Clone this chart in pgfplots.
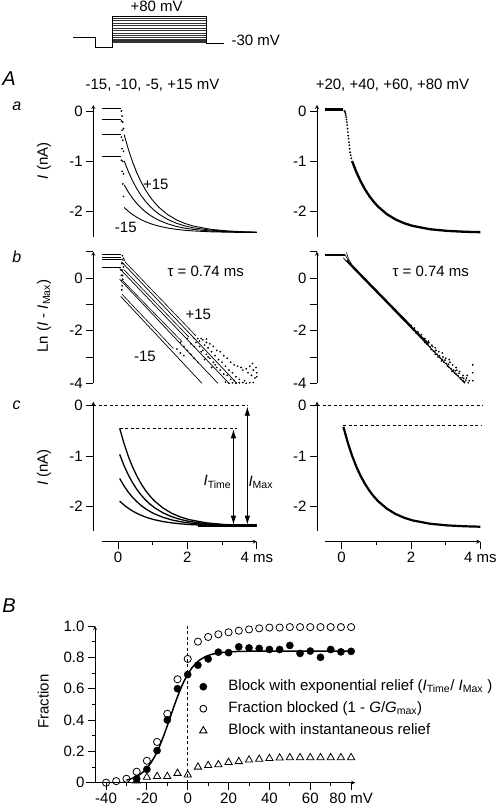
\documentclass[border=0pt]{standalone}
\usepackage{fontspec}
\setmainfont{Liberation Sans}
\usepackage{pgfplots}
\pgfplotsset{compat=1.18}
\usetikzlibrary{arrows.meta}
\newcommand{\fs}{\fontsize{15}{18}\selectfont}
\pgfplotsset{
  base/.style={scale only axis, clip=false,
    axis line style={-, line width=0.8pt},
    major tick length=7pt, minor tick length=3.5pt,
    tick style={line width=0.8pt, black},
    /pgf/number format/assume math mode=true,
    tick label style={font=\fs}},
  pA/.style={base, width=163.4pt, xmin=-0.71, xmax=4,
    axis x line=none, axis y line=left, tick align=outside},
  dat/.style={black, line width=0.9pt},
  dots/.style={black, only marks, mark=*, mark size=0.65pt},
  dsh/.style={black, line width=0.8pt, dash pattern=on 3pt off 2.5pt},
}
\begin{document}
\begin{tikzpicture}[x=1pt,y=1pt,font=\fs]
\useasboundingbox (0,0) rectangle (496,810);

% ---------- protocol ----------
\begin{axis}[scale only axis, width=496pt, height=810pt, at={(0pt,0pt)}, anchor=south west,
  xmin=0, xmax=496, ymin=0, ymax=810, hide axis, clip=false, unbounded coords=jump]
\addplot[black, line width=0.8pt] coordinates {(73.3,772.7)(95,772.7)(95,763)(112.7,763)(112.7,794)(206,794)(206,766.7)(224,766.7)};
\addplot[black!80, line width=0.6pt] coordinates {
(112.7,791.7)(206,791.7)(nan,nan)
(112.7,789.3)(206,789.3)(nan,nan)
(112.7,787)(206,787)(nan,nan)
(112.7,784.3)(206,784.3)(nan,nan)
(112.7,782)(206,782)(nan,nan)
(112.7,779.3)(206,779.3)(nan,nan)
(112.7,777)(206,777)(nan,nan)
(112.7,774.3)(206,774.3)(nan,nan)
(112.7,772.3)(206,772.3)(nan,nan)
(112.7,770.9)(206,770.9)(nan,nan)
(112.7,769.7)(206,769.7)(nan,nan)
(112.7,768.5)(206,768.5)(nan,nan)
(112.7,767.4)(206,767.4)};
\end{axis}
\node at (156.7,804) {+80 mV};
\node[anchor=west] at (228,770) {-30 mV};

% ---------- labels ----------
\node at (9,731) {\fontsize{20}{24}\selectfont\itshape A};
\node at (152.5,725) {-15, -10, -5, +15 mV};
\node at (392.5,725) {+20, +40, +60, +80 mV};
\node at (16.7,704.2) {\fontsize{16}{19}\selectfont\itshape a};
\node at (16.7,553.3) {\fontsize{16}{19}\selectfont\itshape b};
\node at (16.7,405) {\fontsize{16}{19}\selectfont\itshape c};
\node at (9,204.2) {\fontsize{20}{24}\selectfont\itshape B};
\node[rotate=90] at (44,649.2) {\textit{I} (nA)};
\node[rotate=90] at (44,494) {Ln (\textit{I} - \textit{I}\textsubscript{Max})};
\node[rotate=90] at (44,342.5) {\textit{I} (nA)};
\node[rotate=90] at (43.3,108.3) {Fraction};
\node at (205.8,538.3) {τ = 0.74 ms};
\node at (430.8,538.3) {τ = 0.74 ms};
\node at (155.8,626) {+15};
\node at (125.8,582.5) {-15};
\node at (198.3,496) {+15};
\node at (145,453.3) {-15};
\node at (217.5,328.3) {\textit{I}\textsubscript{Time}};
\node at (260.8,327.5) {\textit{I}\textsubscript{Max}};

% ---------- row a left ----------
\begin{axis}[pA, height=131.7pt, ymin=-2.5, ymax=0.12, ytick={-2,-1,0},
  at={(93.3pt,573.3pt)}, anchor=south west]
\addplot[dat] coordinates {(-0.45,0.05)(0.08,0.05)};
\addplot[dat] coordinates {(-0.45,-0.16)(0.08,-0.16)};
\addplot[dat] coordinates {(-0.45,-0.46)(0.08,-0.46)};
\addplot[dat] coordinates {(-0.45,-0.90)(0.08,-0.90)};
\addplot[dots] coordinates {(0.10,0.0)(0.12,-0.1)(0.14,-0.22)(0.16,-0.35)
 (0.10,-0.2)(0.12,-0.38)(0.14,-0.58)(0.16,-0.8)
 (0.10,-0.52)(0.12,-0.75)(0.14,-1.0)(0.16,-1.25)
 (0.10,-0.98)(0.12,-1.2)(0.14,-1.45)(0.16,-1.7)};
\addplot[dat] coordinates {(0.18,-0.47)(0.305,-0.772)(0.43,-1.030)(0.555,-1.246)(0.68,-1.427)(0.805,-1.581)(0.93,-1.712)(1.055,-1.821)(1.18,-1.915)(1.43,-2.059)(1.68,-2.163)(1.93,-2.237)(2.18,-2.289)(2.68,-2.354)(3.18,-2.386)(3.68,-2.403)(4.0,-2.409)};
\addplot[dat] coordinates {(0.18,-0.99)(0.305,-1.212)(0.43,-1.400)(0.555,-1.559)(0.68,-1.692)(0.805,-1.805)(0.93,-1.901)(1.055,-1.981)(1.18,-2.050)(1.43,-2.155)(1.68,-2.231)(1.93,-2.286)(2.18,-2.324)(2.68,-2.371)(3.18,-2.395)(3.68,-2.407)(4.0,-2.412)};
\addplot[dat] coordinates {(0.18,-1.47)(0.305,-1.617)(0.43,-1.743)(0.555,-1.848)(0.68,-1.936)(0.805,-2.011)(0.93,-2.075)(1.055,-2.128)(1.18,-2.174)(1.43,-2.244)(1.68,-2.295)(1.93,-2.331)(2.18,-2.356)(2.68,-2.388)(3.18,-2.403)(3.68,-2.412)(4.0,-2.415)};
\addplot[dat] coordinates {(0.18,-1.92)(0.305,-1.997)(0.43,-2.063)(0.555,-2.119)(0.68,-2.165)(0.805,-2.205)(0.93,-2.238)(1.055,-2.266)(1.18,-2.29)(1.43,-2.327)(1.68,-2.354)(1.93,-2.373)(2.18,-2.386)(2.68,-2.403)(3.18,-2.411)(3.68,-2.416)(4.0,-2.417)};
\end{axis}

% ---------- row a right ----------
\begin{axis}[pA, height=131.7pt, ymin=-2.5, ymax=0.12, ytick={-2,-1,0},
  at={(317pt,573.3pt)}, anchor=south west]
\addplot[black, line width=2.5pt] coordinates {(-0.48,0.03)(0.05,0.03)};
\addplot[dots] coordinates {(0.08,0.0)(0.1,-0.02)(0.11,-0.05)(0.12,-0.08)(0.13,-0.12)(0.14,-0.17)(0.15,-0.22)(0.16,-0.28)(0.17,-0.35)(0.18,-0.42)(0.19,-0.49)(0.2,-0.55)(0.21,-0.62)(0.22,-0.68)(0.23,-0.75)(0.245,-0.82)(0.26,-0.88)(0.28,-0.94)};
\addplot[black, line width=2.3pt] coordinates {(0.3,-0.994)(0.425,-1.216)(0.55,-1.402)(0.675,-1.56)(0.8,-1.694)(0.925,-1.806)(1.05,-1.902)(1.3,-2.05)(1.55,-2.156)(1.8,-2.232)(2.05,-2.286)(2.55,-2.352)(3.05,-2.385)(3.55,-2.402)(4.0,-2.41)};
\end{axis}

% ---------- row b left ----------
\begin{axis}[pA, height=131.6pt, ymin=-4, ymax=1, ytick={-4,-2,0}, minor ytick={-3,-1,1},
  minor tick length=7pt, at={(93.3pt,426.7pt)}, anchor=south west]
\addplot[dat] coordinates {(-0.45,0.89)(0.1,0.89)};
\addplot[dat] coordinates {(-0.45,0.80)(0.1,0.80)};
\addplot[dat] coordinates {(-0.45,0.70)(0.1,0.70)};
\addplot[dat] coordinates {(-0.45,0.40)(0.1,0.40)};
\addplot[black, line width=0.7pt] coordinates {(0.1,0.62)(3.43,-4)};
\addplot[black, line width=0.7pt] coordinates {(0.05,0.36)(3.2,-4)};
\addplot[black, line width=0.7pt] coordinates {(0.05,-0.05)(2.88,-4)};
\addplot[black, line width=0.7pt] coordinates {(0.08,-0.70)(2.42,-4)};
\addplot[black, line width=0.6pt] coordinates {(0.2,0.62)(2.25,-2.2)};
\addplot[black, line width=0.6pt] coordinates {(0.17,0.32)(2.05,-2.25)};
\addplot[black, line width=0.6pt] coordinates {(0.15,-0.12)(1.85,-2.42)};
\addplot[black, line width=0.6pt] coordinates {(0.12,-0.62)(1.6,-2.68)};
\addplot[dots] coordinates {(0.13,0.85)(0.16,0.75)(0.18,0.68)(0.12,0.7)(0.14,0.55)(0.16,0.42)
 (0.11,0.55)(0.12,0.3)(0.13,0.1)(0.14,-0.05)(0.09,0.3)(0.1,0.1)(0.11,-0.1)(0.12,-0.3)(0.11,-0.45)
 (2.3,-2.3)(2.35,-2.4)(2.45,-2.35)(2.5,-2.55)(2.55,-2.45)(2.6,-2.65)(2.65,-2.5)(2.7,-2.8)(2.75,-2.6)
 (2.8,-2.95)(2.85,-2.75)(2.9,-3.1)(2.95,-2.8)(3.0,-3.2)(3.05,-2.95)(3.1,-3.35)(3.15,-3.05)(3.2,-3.5)
 (3.25,-3.2)(3.3,-3.6)(3.35,-3.3)(3.4,-3.75)(3.45,-3.35)(3.5,-3.85)(3.55,-3.4)(3.6,-3.5)(3.65,-3.9)
 (3.7,-3.45)(3.75,-3.6)(3.8,-3.35)(3.85,-3.7)(3.9,-3.5)(3.95,-3.8)(4.0,-3.6)(3.1,-3.95)(3.3,-3.98)
 (3.6,-3.97)(3.9,-3.97)(2.6,-3.0)(2.8,-3.3)(2.4,-2.8)(2.2,-2.6)(2.0,-2.3)(2.1,-2.5)(2.5,-3.1)(2.7,-3.4)
 (3.2,-4.0)(3.4,-4.0)(3.5,-3.98)(3.7,-4.0)(3.8,-3.98)(4.0,-3.75)(3.98,-3.4)(3.88,-3.25)
 (1.8,-2.45)(1.9,-2.6)(2.0,-2.75)(2.1,-2.9)(2.2,-3.05)(2.3,-3.2)(1.7,-2.7)(1.8,-2.85)(1.9,-2.95)
 (2.25,-2.45)(2.35,-2.6)(2.45,-2.75)(2.55,-2.9)(2.65,-3.05)(2.75,-3.2)(2.85,-3.4)(2.95,-3.5)
 (3.05,-3.65)(3.15,-3.7)(3.25,-3.85)(3.35,-3.9)(2.4,-2.3)(2.55,-2.32)(2.2,-2.3)};
\end{axis}

% ---------- row b right ----------
\begin{axis}[pA, height=131.6pt, ymin=-4, ymax=1, ytick={-4,-2,0}, minor ytick={-3,-1,1},
  minor tick length=7pt, at={(317pt,426.7pt)}, anchor=south west]
\addplot[black, line width=2pt] coordinates {(-0.48,0.89)(0.1,0.89)};
\addplot[black, line width=0.6pt] coordinates {(0.1,0.89)(0.22,0.6)};
\addplot[black, line width=0.6pt] coordinates {(0.14,0.97)(0.2,0.72)(0.3,0.5)};
\addplot[black, line width=0.8pt] coordinates {(0.05,0.76)(3.55,-4.0)};
\addplot[black, line width=2.2pt] coordinates {(0.15,0.66)(2.0,-1.84)};
\addplot[black, line width=1.4pt] coordinates {(2.0,-1.84)(2.5,-2.5)};
\addplot[dots] coordinates {(2.0,-1.8)(2.05,-1.95)(2.1,-1.9)(2.15,-2.1)(2.2,-2.05)(2.25,-2.22)(2.3,-2.15)
 (2.35,-2.35)(2.4,-2.3)(2.45,-2.5)(2.5,-2.4)(2.55,-2.62)(2.6,-2.55)(2.65,-2.78)(2.7,-2.65)(2.75,-2.9)
 (2.8,-2.8)(2.85,-3.05)(2.9,-2.85)(2.95,-3.2)(3.0,-3.05)(3.05,-3.35)(3.1,-3.1)(3.15,-3.45)(3.2,-3.3)
 (3.25,-3.6)(3.3,-3.4)(3.35,-3.7)(3.4,-3.55)(3.45,-3.85)(3.5,-3.7)(3.55,-3.95)(3.6,-3.8)(3.65,-3.98)
 (3.78,-3.3)(3.78,-3.6)(3.78,-3.9)(2.5,-2.55)(2.7,-2.9)(2.9,-3.1)(3.1,-3.4)(3.3,-3.65)(3.5,-3.9)
 (2.62,-2.6)(2.82,-2.95)(3.02,-3.25)(3.22,-3.5)(3.42,-3.8)(2.3,-2.28)(2.4,-2.45)
 (2.58,-2.72)(2.68,-2.8)(2.78,-3.0)(2.88,-3.15)(2.98,-3.12)(3.08,-3.28)(3.18,-3.55)(3.28,-3.52)
 (3.38,-3.62)(3.48,-3.78)(3.58,-3.88)(3.62,-3.7)(2.72,-2.75)(2.92,-3.0)(3.12,-3.2)(3.32,-3.5)
 (3.52,-3.82)(3.68,-3.9)(2.52,-2.45)(2.42,-2.38)};
\end{axis}

% ---------- row c left ----------
\begin{axis}[pA, height=129.5pt, ymin=-2.5, ymax=0.08, ytick={-2,-1,0},
  at={(93.3pt,278.8pt)}, anchor=south west]
\addplot[dsh] coordinates {(-0.71,0)(3.75,0)};
\addplot[dsh] coordinates {(0.05,-0.45)(3.44,-0.45)};
\addplot[black, line width=1.3pt] coordinates {(0.05,-0.45)(0.175,-0.752)(0.3,-1.010)(0.425,-1.226)(0.55,-1.407)(0.675,-1.562)(0.8,-1.692)(0.925,-1.801)(1.05,-1.895)(1.3,-2.039)(1.55,-2.143)(1.8,-2.217)(2.05,-2.269)(2.55,-2.334)(3.05,-2.366)(3.55,-2.383)(4.0,-2.391)};
\addplot[black, line width=1.3pt] coordinates {(0.05,-0.97)(0.175,-1.192)(0.3,-1.380)(0.425,-1.539)(0.55,-1.672)(0.675,-1.785)(0.8,-1.881)(0.925,-1.961)(1.05,-2.030)(1.3,-2.135)(1.55,-2.211)(1.8,-2.266)(2.05,-2.304)(2.55,-2.351)(3.05,-2.375)(3.55,-2.387)(4.0,-2.394)};
\addplot[black, line width=1.3pt] coordinates {(0.05,-1.45)(0.175,-1.597)(0.3,-1.723)(0.425,-1.828)(0.55,-1.916)(0.675,-1.992)(0.8,-2.055)(0.925,-2.108)(1.05,-2.154)(1.3,-2.224)(1.55,-2.275)(1.8,-2.311)(2.05,-2.336)(2.55,-2.368)(3.05,-2.383)(3.55,-2.392)(4.0,-2.396)};
\addplot[black, line width=1.3pt] coordinates {(0.05,-1.9)(0.175,-1.978)(0.3,-2.044)(0.425,-2.099)(0.55,-2.146)(0.675,-2.185)(0.8,-2.219)(0.925,-2.247)(1.05,-2.271)(1.3,-2.308)(1.55,-2.334)(1.8,-2.353)(2.05,-2.367)(2.55,-2.383)(3.05,-2.391)(3.55,-2.396)(4.0,-2.398)};
\addplot[black, line width=3pt] coordinates {(2.3,-2.395)(4.0,-2.395)};
\addplot[black, line width=0.8pt, {Latex[length=9pt,width=5.5pt]}-{Latex[length=9pt,width=5.5pt]}] coordinates {(3.33,-0.47)(3.33,-2.37)};
\addplot[black, line width=0.8pt, {Latex[length=9pt,width=5.5pt]}-{Latex[length=9pt,width=5.5pt]}] coordinates {(3.73,-0.02)(3.73,-2.37)};
\end{axis}

% ---------- row c right ----------
\begin{axis}[pA, height=129.5pt, ymin=-2.5, ymax=0.08, ytick={-2,-1,0},
  at={(317pt,278.8pt)}, anchor=south west]
\addplot[dsh] coordinates {(-0.71,0)(4.06,0)};
\addplot[dsh] coordinates {(0.05,-0.4)(4.06,-0.4)};
\addplot[black, line width=2.2pt] coordinates {(0.05,-0.42)(0.175,-0.73)(0.3,-0.994)(0.425,-1.216)(0.55,-1.402)(0.675,-1.56)(0.8,-1.694)(0.925,-1.806)(1.05,-1.902)(1.3,-2.05)(1.55,-2.156)(1.8,-2.232)(2.05,-2.286)(2.55,-2.352)(3.05,-2.385)(3.55,-2.402)(4.0,-2.411)};
\end{axis}

% ---------- row c x axes ----------
\begin{axis}[base, width=155.1pt, height=10pt, xmin=-0.47, xmax=4, ymin=0, ymax=1,
  axis x line=bottom, axis y line=none, tick align=outside,
  xtick={0,2,4}, xticklabels={0,2,4 ms}, minor xtick={1,3},
  at={(101.7pt,268.3pt)}, anchor=south west]
\addplot[draw=none] coordinates {(0,0.5)};
\end{axis}
\begin{axis}[base, width=155.1pt, height=10pt, xmin=-0.47, xmax=4, ymin=0, ymax=1,
  axis x line=bottom, axis y line=none, tick align=outside,
  xtick={0,2,4}, xticklabels={0,2,4 ms}, minor xtick={1,3},
  at={(325.3pt,268.3pt)}, anchor=south west]
\addplot[draw=none] coordinates {(0,0.5)};
\end{axis}

% ---------- panel B ----------
\begin{axis}[base, width=260.2pt, height=156.7pt, xmin=-45.4, xmax=82, ymin=0, ymax=1,
  axis x line=bottom, axis y line=left, tick align=outside,
  xtick={-40,-20,0,20,40,60,80}, xticklabels={-40,-20,0,20,40,60,80 mV},
  minor xtick={-30,-10,10,30,50,70},
  ytick={0,0.2,0.4,0.6,0.8,1}, yticklabels={0,0.2,0.4,0.6,0.8,1.0},
  minor ytick={0.1,0.3,0.5,0.7,0.9},
  at={(95pt,27.3pt)}, anchor=south west,
  legend style={draw=none, fill=none, at={(axis cs:5.75,0.668)}, anchor=north west,
    inner sep=0pt, font=\fs, row sep=5pt,
    nodes={inner ysep=1pt, text height=11pt, text depth=4pt},
    /tikz/every odd column/.append style={column sep=19.5pt}},
  legend cell align=left]
\addlegendimage{only marks, mark=*, mark size=3.6pt, black}
\addlegendentry{Block with exponential relief (\textit{I}\textsubscript{Time}/ \textit{I}\textsubscript{Max} )}
\addlegendimage{only marks, mark=o, mark size=3.4pt, black, line width=0.9pt}
\addlegendentry{Fraction blocked (1 - \textit{G}/\textit{G}\textsubscript{max})}
\addlegendimage{only marks, mark=triangle, mark size=4.2pt, black, line width=0.9pt}
\addlegendentry{Block with instantaneous relief}
\addplot[dsh, forget plot] coordinates {(0,0)(0,1.0)};
\addplot[only marks, mark=o, mark size=3.6pt, black, line width=0.8pt, mark options={fill=white}, forget plot] coordinates {
(-40,0)(-35,0.01)(-30,0.025)(-25,0.07)(-20,0.14)(-15,0.26)(-10,0.44)(-5,0.66)(0,0.79)(5,0.90)(10,0.93)(15,0.947)(20,0.96)(25,0.97)(30,0.978)(35,0.985)(40,0.99)(45,0.99)(50,0.993)(55,0.993)(60,0.993)(65,0.993)(70,0.993)(75,0.993)(80,0.993)};
\addplot[black, line width=1.5pt, forget plot] coordinates {
(-30,0.0165)(-28,0.0236)(-26,0.0335)(-24,0.0474)(-22,0.0665)(-20,0.0924)(-18,0.127)(-16,0.171)(-14,0.226)(-12,0.291)(-10,0.363)(-8,0.439)(-6,0.514)(-4,0.583)(-2,0.643)(0,0.692)(2,0.732)(4,0.762)(6,0.784)(8,0.800)(10,0.812)(12,0.820)(15,0.828)(20,0.835)(25,0.838)(30,0.839)(40,0.84)(80,0.84)};
\addplot[only marks, mark=*, mark size=3.6pt, black, forget plot] coordinates {
(-25,0.025)(-20,0.085)(-15,0.205)(-10,0.40)(-5,0.60)(0,0.69)(5,0.75)(10,0.79)(15,0.833)(20,0.83)(25,0.867)(30,0.86)(35,0.857)(40,0.85)(45,0.85)(50,0.876)(55,0.825)(60,0.84)(65,0.80)(70,0.85)(75,0.835)(80,0.838)};
\addplot[only marks, mark=triangle, mark size=4.2pt, black, line width=0.8pt, mark options={fill=white}, forget plot] coordinates {
(-25,0.012)(-20,0.035)(-15,0.04)(-10,0.04)(-5,0.06)(0,0.05)(5,0.10)(10,0.11)(15,0.115)(20,0.13)(25,0.135)(30,0.145)(35,0.15)(40,0.155)(45,0.158)(50,0.16)(55,0.16)(60,0.16)(65,0.16)(70,0.16)(75,0.16)(80,0.16)};
\draw[line width=0.8pt] (axis cs:-50,0) -- (axis cs:-45.4,0);
\end{axis}
\end{tikzpicture}
\end{document}
